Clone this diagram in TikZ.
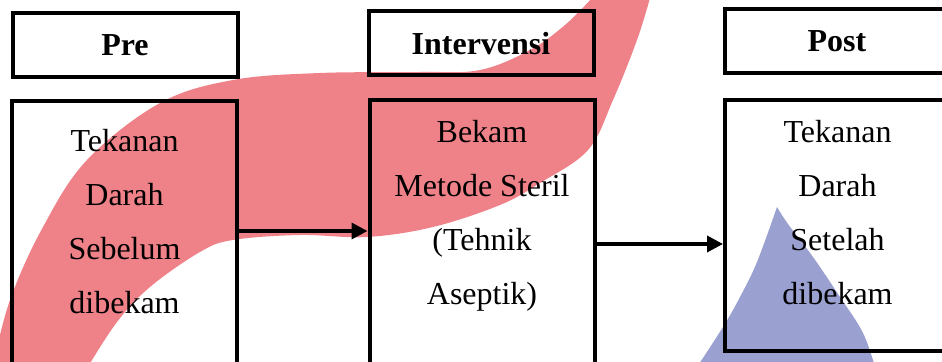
\documentclass[tikz,border=0pt]{standalone}
\usepackage{fontspec}
\setmainfont{Liberation Serif}
\usetikzlibrary{arrows.meta,positioning}

\definecolor{logored}{RGB}{239,130,137}
\definecolor{logoblue}{RGB}{154,160,207}

\begin{document}
\begin{tikzpicture}[x=0.5pt,y=-0.5pt,
		headbox/.style={draw, line width=2pt, minimum width=112.5pt, minimum height=32pt, inner sep=0pt, font=\fontsize{16}{19}\selectfont\bfseries},
		bodybox/.style={draw, line width=2pt, minimum width=112.5pt, inner sep=0pt},
		bodytext/.style={align=center, inner sep=0pt, font=\fontsize{16}{27}\selectfont},
		flow/.style={line width=1.8pt, -{Triangle[length=8pt,width=8pt]}}]
	\useasboundingbox (0,0) rectangle (942,362);
	\clip (0,0) rectangle (942,362);

	% logo shapes behind the boxes
	\fill[logored] plot[smooth, tension=0.6] coordinates {(-8,370) (10,300) (43,227) (87,160) (160,103) (233,80) (320,73) (420,72) (480,70) (530,50) (565,25) (592,-2)}
		-- plot[smooth, tension=0.6] coordinates {(650,-2) (637,40) (613,100) (588,150) (540,183) (500,205) (433,227) (367,237) (300,235) (233,240) (200,252) (150,287) (117,322) (86,370)} -- cycle;
	\fill[logoblue] plot[smooth, tension=0.6] coordinates {(695,370) (723,327) (740,297) (757,262) (777,207)}
		-- plot[smooth, tension=0.6] coordinates {(777,207) (788,224) (813,257) (840,297) (863,333) (876,370)} -- cycle;

	% headers
	\node[headbox] (pre)  at (125,45)   {Pre};
	\node[headbox] (int)  at (481,43.5) {Intervensi};
	\node[headbox] (post) at (837,41)   {Post};

	% content boxes (run past the lower edge)
	\node[bodybox, minimum height=145pt]   (prebody)  at (124.5,246) {};
	\node[bodybox, minimum height=145pt]   (intbody)  at (482,245)   {};
	\node[bodybox, minimum height=125.5pt] (postbody) at (837.5,225.5) {};

	\node[bodytext, below=15pt of prebody.north]  (pretext)  {Tekanan\\Darah\\Sebelum\\dibekam};
	\node[bodytext, below=11pt of intbody.north]  (inttext)  {Bekam\\Metode Steril\\(Tehnik\\Aseptik)};
	\node[bodytext, below=11pt of postbody.north] (posttext) {Tekanan\\Darah\\Setelah\\dibekam};

	% arrows between the boxes
	\coordinate (lvlA) at (0,231);
	\coordinate (lvlB) at (0,244);
	\draw[flow] (prebody.east |- lvlA) -- (intbody.west |- lvlA);
	\draw[flow] (intbody.east |- lvlB) -- (postbody.west |- lvlB);
\end{tikzpicture}
\end{document}
